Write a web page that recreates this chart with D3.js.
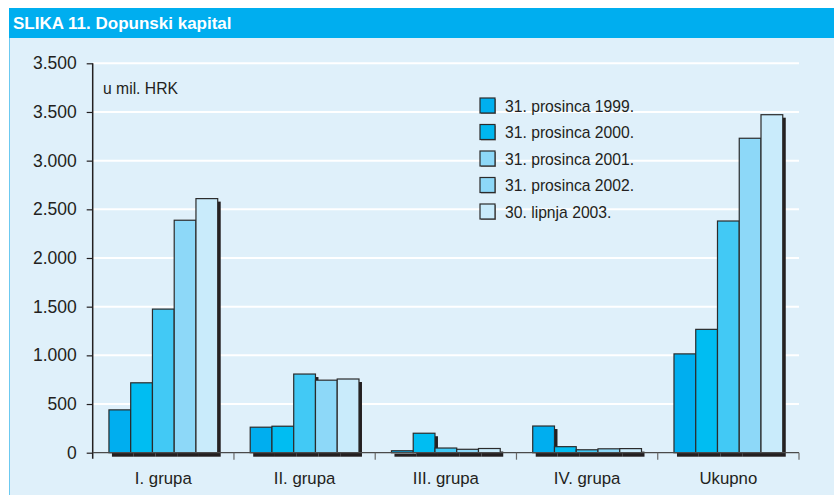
<meta charset="utf-8">
<style>
body { margin: 0; background: #fff; font-family: "Liberation Sans", Helvetica, Arial, sans-serif; }
.grid line { stroke: #fff; stroke-width: 2; }
.tick-label { font-size: 17.5px; fill: #231f20; }
.cat-label { font-size: 16.8px; fill: #231f20; }
.legend text { font-size: 15.7px; fill: #231f20; }
</style>
<body>
<script src="https://cdnjs.cloudflare.com/ajax/libs/d3/7.8.5/d3.min.js"></script>
<script>

var width = 834, height = 495;

var title = "SLIKA 11. Dopunski kapital";
var unitLabel = "u mil. HRK";

var categories = ["I. grupa", "II. grupa", "III. grupa", "IV. grupa", "Ukupno"];
var series = ["31. prosinca 1999.", "31. prosinca 2000.", "31. prosinca 2001.", "31. prosinca 2002.", "30. lipnja 2003."];

// values per series, in order of categories
var v1999 = [440, 262, 20, 274, 1015];
var v2000 = [718, 272, 200, 62, 1267];
var v2001 = [1475, 808, 48, 30, 2380];
var v2002 = [2388, 745, 35, 40, 3230];
var v2003 = [2610, 757, 43, 42, 3472];
var values = [v1999, v2000, v2001, v2002, v2003];

var tickValues = [0, 500, 1000, 1500, 2000, 2500, 3000, 3500, 4000];
var tickLabels = ["0", "500", "1.000", "1.500", "2.000", "2.500", "3.000", "3.500", "3.500"];

var barColors = ["#00aeef", "#00bdf2", "#42c9f5", "#8dd8f8", "#c9ebfb"];
var legendColors = ["#00b0ef", "#00b7ef", "#8dd8f8", "#8dd8f8", "#c9ebfb"];

var ink = "#231f20";

var svg = d3.select("body").append("svg")
    .attr("width", width)
    .attr("height", height);

// panel
svg.append("rect")
    .attr("x", 9).attr("y", 38)
    .attr("width", width - 9).attr("height", height - 38)
    .attr("fill", "#dff0fa");
svg.append("line")
    .attr("x1", 9.5).attr("x2", 9.5)
    .attr("y1", 38).attr("y2", height)
    .attr("stroke", "#6cc9f0").attr("stroke-width", 1);

// title bar
svg.append("rect")
    .attr("x", 9).attr("y", 8)
    .attr("width", width - 9).attr("height", 30)
    .attr("fill", "#00aeef");
svg.append("text")
    .attr("x", 13).attr("y", 29)
    .attr("fill", "#fff")
    .attr("font-size", "17px")
    .attr("font-weight", "bold")
    .text(title);

var plot = {left: 92.7, right: 799, top: 63.3, bottom: 452.7};

var y = d3.scaleLinear()
    .domain([0, 4000])
    .range([plot.bottom, plot.top]);

var x0 = d3.scaleBand()
    .domain(categories)
    .range([plot.left, plot.right])
    .padding(0);

var bw = x0.bandwidth();
var x1 = d3.scaleBand()
    .domain(d3.range(series.length))
    .range([bw * 0.115, bw * 0.885])
    .padding(0);

// grid
svg.append("g").attr("class", "grid")
  .selectAll("line")
    .data(tickValues.slice(1))
  .enter().append("line")
    .attr("x1", plot.left).attr("x2", plot.right)
    .attr("y1", function(d) { return y(d); })
    .attr("y2", function(d) { return y(d); });

// y axis
var yAxis = d3.axisLeft(y)
    .tickValues(tickValues)
    .tickSize(6)
    .tickPadding(10)
    .tickFormat(function(d, i) { return tickLabels[i]; });

var gy = svg.append("g")
    .attr("transform", "translate(" + plot.left + ",0)")
    .call(yAxis);
gy.select(".domain").remove();
gy.selectAll(".tick line").attr("stroke", ink).attr("stroke-width", 1.2);
gy.selectAll(".tick text")
    .attr("class", "tick-label")
    .attr("font-family", null).attr("font-size", null)
    .attr("fill", ink);
svg.append("line")
    .attr("x1", plot.left).attr("x2", plot.left)
    .attr("y1", plot.top).attr("y2", plot.bottom + 6)
    .attr("stroke", ink).attr("stroke-width", 1.5);

svg.append("text")
    .attr("x", 103).attr("y", 94)
    .attr("font-size", "15.7px")
    .attr("fill", ink)
    .text(unitLabel);

// bars
var groups = svg.selectAll(".group")
    .data(categories)
  .enter().append("g")
    .attr("class", "group")
    .attr("transform", function(d) { return "translate(" + x0(d) + ",0)"; });

groups.each(function(cat, ci) {
  var g = d3.select(this);
  values.forEach(function(vals, si) {
    var v = vals[ci];
    var bx = x1(si), by = y(v), bh = plot.bottom - y(v);
    g.append("rect")
        .attr("x", bx + 3).attr("y", by + 3)
        .attr("width", x1.bandwidth()).attr("height", bh + 1)
        .attr("fill", "#231f20");
    g.append("rect")
        .attr("x", bx).attr("y", by)
        .attr("width", x1.bandwidth()).attr("height", bh)
        .attr("fill", barColors[si])
        .attr("stroke", "#2b2b2b")
        .attr("stroke-width", 1.2);
  });
});

// x axis
svg.append("line")
    .attr("x1", plot.left).attr("x2", plot.right)
    .attr("y1", plot.bottom).attr("y2", plot.bottom)
    .attr("stroke", "#4a4a4a").attr("stroke-width", 1.2);

svg.selectAll(".xtick")
    .data(categories.slice(1).concat([null]))
  .enter().append("line")
    .attr("class", "xtick")
    .attr("x1", function(d) { return d ? x0(d) : plot.right; })
    .attr("x2", function(d) { return d ? x0(d) : plot.right; })
    .attr("y1", plot.bottom).attr("y2", plot.bottom + 7)
    .attr("stroke", "#6a6a6a").attr("stroke-width", 1.2);

svg.selectAll(".cat-label")
    .data(categories)
  .enter().append("text")
    .attr("class", "cat-label")
    .attr("x", function(d) { return x0(d) + bw / 2; })
    .attr("y", 484)
    .attr("text-anchor", "middle")
    .text(function(d) { return d; });

// legend
var legend = svg.append("g").attr("class", "legend")
  .selectAll("g")
    .data(series)
  .enter().append("g")
    .attr("transform", function(d, i) { return "translate(480," + (98 + i * 26.5) + ")"; });

legend.append("rect")
    .attr("x", 1).attr("y", 1)
    .attr("width", 15).attr("height", 15)
    .attr("fill", "#8a8a8a");
legend.append("rect")
    .attr("width", 15).attr("height", 15)
    .attr("fill", function(d, i) { return legendColors[i]; })
    .attr("stroke", "#2b2b2b").attr("stroke-width", 1.2);
legend.append("text")
    .attr("x", 25).attr("y", 13.5)
    .text(function(d) { return d; });

</script>
